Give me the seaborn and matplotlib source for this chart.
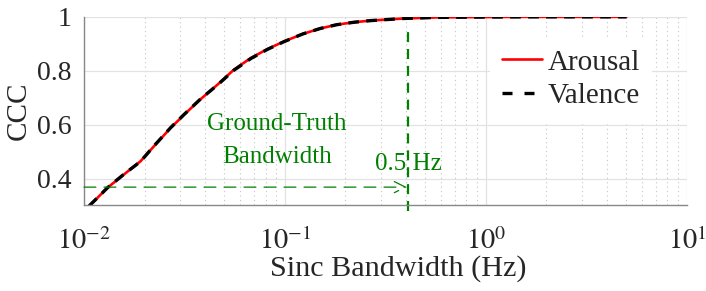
import numpy as np
import pandas as pd
import matplotlib
matplotlib.use('Agg')
import matplotlib.pyplot as plt
import seaborn as sns
from matplotlib.lines import Line2D
from matplotlib.ticker import LogLocator, NullFormatter, FixedLocator, FixedFormatter

# Values
freq = [0.0106, 0.0131, 0.0158, 0.0191, 0.0223, 0.027, 0.0315, 0.0381,
        0.0461, 0.0557, 0.0675, 0.0816, 0.0989, 0.123, 0.15, 0.181, 0.22,
        0.265, 0.388, 0.569, 0.83, 1.5, 3.0, 5.0]
arousal = [0.297, 0.366, 0.415, 0.464, 0.520, 0.588, 0.637, 0.695,
           0.748, 0.804, 0.847, 0.880, 0.909, 0.937, 0.957, 0.971, 0.980,
           0.986, 0.994, 0.998, 0.999, 1.0, 1.0, 1.0]
valence = [0.298, 0.366, 0.416, 0.463, 0.521, 0.589, 0.638, 0.696,
           0.747, 0.802, 0.845, 0.879, 0.908, 0.937, 0.957, 0.971, 0.980,
           0.986, 0.994, 0.998, 0.999, 1.0, 1.0, 1.0]
yticks = [0.4, 0.6, 0.8, 1.0]
ytick_labels = ['0.4', '0.6', '0.8', '1']
xticks = [0.01, 0.1, 1, 10]
xtick_labels = [r'$10^{-2}$', r'$10^{-1}$', r'$10^{0}$', r'$10^{1}$']
gt_freq = 0.41
gt_ccc = 0.368

df = pd.DataFrame({
    'freq': freq * 2,
    'ccc': arousal + valence,
    'dim': ['Arousal'] * len(freq) + ['Valence'] * len(freq),
})

sns.set_style('white')
plt.rcParams['font.family'] = ['Liberation Serif', 'DejaVu Serif']
plt.rcParams['mathtext.fontset'] = 'stix'
dark = '#262626'
green = '#008000'

fig = plt.figure(figsize=(7.06, 2.91), dpi=100)
ax = fig.add_axes([0.119, 0.294, 0.854, 0.648])

sns.lineplot(data=df, x='freq', y='ccc', hue='dim', style='dim',
             palette={'Arousal': 'red', 'Valence': 'black'},
             dashes={'Arousal': '', 'Valence': (3.2, 2.2)},
             ax=ax, legend=False)
ax.lines[0].set_linewidth(1.9)
ax.lines[1].set_linewidth(2.4)

ax.set_xscale('log')
ax.set_xlim(0.01, 10)
ax.set_ylim(0.3, 1.0)

ax.xaxis.set_major_locator(FixedLocator(xticks))
ax.xaxis.set_major_formatter(FixedFormatter(xtick_labels))
ax.xaxis.set_minor_locator(LogLocator(base=10, subs=np.arange(2, 10), numticks=50))
ax.xaxis.set_minor_formatter(NullFormatter())
ax.yaxis.set_major_locator(FixedLocator(yticks))
ax.yaxis.set_major_formatter(FixedFormatter(ytick_labels))

ax.grid(which='major', color='#e2e2e2', lw=0.9)
ax.grid(which='minor', axis='x', color='#c4c4c4', lw=0.8, ls=(0, (1, 3)))
ax.set_axisbelow(True)

for s in ['top', 'right']:
    ax.spines[s].set_visible(False)
for s in ['left', 'bottom']:
    ax.spines[s].set_color('#888888')
    ax.spines[s].set_linewidth(1.0)

ax.tick_params(axis='both', which='both', direction='in', colors='#888888',
               labelcolor=dark)
ax.tick_params(which='major', length=5)
ax.tick_params(which='minor', length=3)
ax.tick_params(axis='y', pad=9, labelsize=20)
ax.tick_params(axis='x', pad=16, labelsize=20.5)

ax.set_xlabel('Sinc Bandwidth (Hz)', fontsize=21.7, color=dark)
ax.xaxis.label.set_va('center')
ax.xaxis.set_label_coords(0.521, -0.332)
ax.set_ylabel('CCC', fontsize=21, color=dark, labelpad=4)

# ground-truth bandwidth markers
ax.plot([gt_freq, gt_freq], [0.28, 0.955], color=green, lw=1.6,
        ls=(0, (4.5, 3.1)), clip_on=False)
ax.annotate('', xy=(gt_freq * 0.985, gt_ccc), xytext=(0.01, gt_ccc),
            arrowprops=dict(arrowstyle='->', color=green, lw=0.9,
                            ls=(0, (9.5, 6.5)), mutation_scale=20,
                            shrinkA=0, shrinkB=0))
ax.text(0.091, 0.541, 'Ground-Truth\nBandwidth', color=green, fontsize=18,
        ha='center', va='center', linespacing=1.6)
ax.text(gt_freq, 0.452, '0.5 Hz', color=green, fontsize=18,
        ha='center', va='center')

handles = [Line2D([], [], color='red', lw=1.9),
           Line2D([], [], color='black', lw=2.4, ls=(0, (3.0, 3.6)))]
leg = ax.legend(handles, ['Arousal', 'Valence'], loc='upper right',
                bbox_to_anchor=(0.942, 0.89), borderaxespad=0, fontsize=21,
                frameon=True, facecolor='white', edgecolor='none',
                framealpha=1, handlelength=1.37, handletextpad=0.2,
                labelspacing=0.25, borderpad=0.4)
for t in leg.get_texts():
    t.set_color(dark)

fig.savefig('out.png', dpi=100)
